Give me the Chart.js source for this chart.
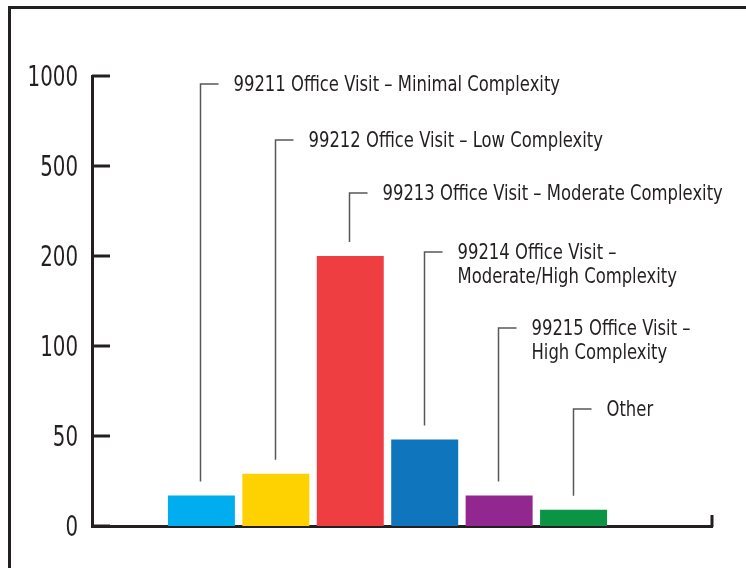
<!DOCTYPE html>
<html>
<head>
<meta charset="utf-8">
<script src="https://cdn.jsdelivr.net/npm/chart.js@4/dist/chart.umd.min.js"></script>
<style>
    body { margin: 0; background: #fff; }
    #wrap { position: relative; width: 746px; height: 568px; overflow: hidden; }
    #frame { position: absolute; left: 8px; top: 6px; width: 800px; height: 600px;
             border-top: 3px solid #231f20; border-left: 3px solid #231f20; }
    #chart { position: absolute; left: 0; top: 0; }
</style>
</head>
<body>
<div id="wrap">
    <div id="frame"></div>
    <canvas id="chart" width="746" height="568"></canvas>
</div>
<script>
const categories = [
    ['99211 Office Visit \u2013 Minimal Complexity'],
    ['99212 Office Visit \u2013 Low Complexity'],
    ['99213 Office Visit \u2013 Moderate Complexity'],
    ['99214 Office Visit \u2013', 'Moderate/High Complexity'],
    ['99215 Office Visit \u2013', 'High Complexity'],
    ['Other']
];
const visits = [17, 29, 200, 48, 17, 9];
const yTicks = [0, 50, 100, 200, 500, 1000];
const barColors = ['#00aeef', '#fed200', '#ef3e42', '#0f75bc', '#92278f', '#0b9444'];

// label layout (pixel y of the bracket line for each callout)
const labelY = [84, 140, 193, 252, 328, 409];

const INK = '#231f20';
const FONT = '"DejaVu Sans Condensed", "DejaVu Sans", sans-serif';

// axis whose ticks are spaced evenly, values interpolated between them
class StepScale extends Chart.LinearScale {
    buildTicks() {
        return yTicks.map(v => ({value: v}));
    }
    getPixelForValue(v) {
        const n = yTicks.length - 1;
        let i = 0;
        while (i < n - 1 && v > yTicks[i + 1]) i++;
        const frac = (v - yTicks[i]) / (yTicks[i + 1] - yTicks[i]);
        return this.getPixelForDecimal((i + frac) / n);
    }
    getValueForPixel(p) {
        const n = yTicks.length - 1;
        const d = this.getDecimalForPixel(p) * n;
        const i = Math.max(0, Math.min(n - 1, Math.floor(d)));
        return yTicks[i] + (d - i) * (yTicks[i + 1] - yTicks[i]);
    }
}
StepScale.id = 'step';
StepScale.defaults = Chart.LinearScale.defaults;
Chart.register(StepScale);

// condensed text: squeeze horizontally to mimic the narrow face
function squeezeText(ctx, text, x, y, align, sx) {
    ctx.save();
    ctx.translate(x, y);
    ctx.scale(sx, 1);
    ctx.textAlign = align;
    ctx.fillText(text, 0, 0);
    ctx.restore();
}

const decorations = {
    id: 'decorations',
    afterDatasetsDraw(chart) {
        const ctx = chart.ctx;
        const y = chart.scales.y;
        const area = chart.chartArea;
        ctx.save();
        // inward tick marks and labels on y axis
        ctx.strokeStyle = INK;
        ctx.fillStyle = INK;
        ctx.lineWidth = 3;
        ctx.font = '29px ' + FONT;
        ctx.textBaseline = 'middle';
        y.ticks.forEach((t, i) => {
            const py = Math.round(y.getPixelForTick(i));
            ctx.beginPath();
            ctx.moveTo(area.left, py);
            ctx.lineTo(area.left + 18, py);
            ctx.stroke();
            squeezeText(ctx, String(t.value), area.left - 14, py + 2, 'right', 0.76);
        });
        // end tick on x axis
        ctx.beginPath();
        ctx.moveTo(area.right, area.bottom + 1);
        ctx.lineTo(area.right, area.bottom - 11);
        ctx.stroke();

        // callouts
        const bars = chart.getDatasetMeta(0).data;
        ctx.font = '22px ' + FONT;
        bars.forEach((bar, i) => {
            const lx = Math.round(bar.x - 1) + 0.5;
            const top = labelY[i];
            ctx.strokeStyle = '#58585a';
            ctx.lineWidth = 1.5;
            ctx.beginPath();
            ctx.moveTo(lx + 18, top);
            ctx.lineTo(lx, top);
            ctx.lineTo(lx, bar.y - 14);
            ctx.stroke();
            categories[i].forEach((line, k) => {
                squeezeText(ctx, line, lx + 33, top + 1 + k * 24, 'left', 0.83);
            });
        });
        ctx.restore();
    }
};

new Chart(document.getElementById('chart'), {
    type: 'bar',
    data: {
        datasets: [{
            data: visits.map((v, i) => ({x: i, y: v})),
            backgroundColor: barColors,
            categoryPercentage: 1,
            barPercentage: 0.9
        }]
    },
    options: {
        responsive: false,
        animation: false,
        devicePixelRatio: 1,
        layout: { padding: { top: 76, right: 34, bottom: 42, left: 0 } },
        plugins: { legend: { display: false }, tooltip: { enabled: false } },
        scales: {
            x: {
                type: 'linear',
                offset: false,
                min: -1.47,
                max: 6.86,
                ticks: { display: false },
                grid: { display: false, drawTicks: false },
                border: { display: true, color: INK, width: 3 },
                afterBuildTicks: s => { s.ticks = categories.map((c, i) => ({value: i})); },
                afterFit: s => { s.height = 0; }
            },
            y: {
                type: 'step',
                min: 0,
                max: 1000,
                ticks: { display: false },
                grid: { display: false, drawTicks: false },
                border: { display: true, color: INK, width: 3 },
                afterFit: s => { s.width = 92; }
            }
        }
    },
    plugins: [decorations]
});
</script>
</body>
</html>
